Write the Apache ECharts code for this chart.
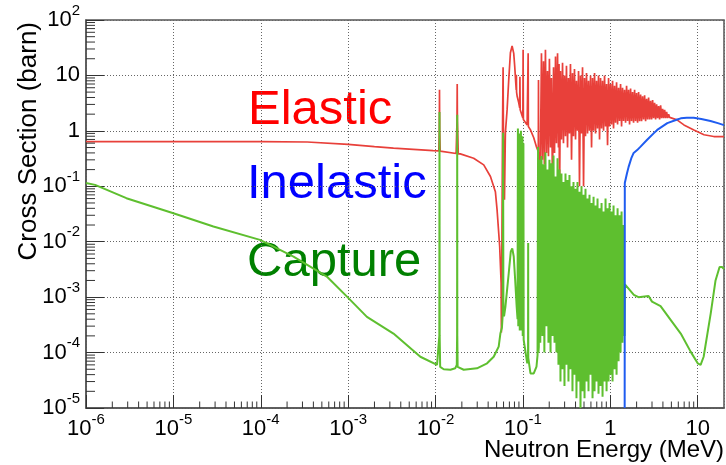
<!DOCTYPE html>
<html><head><meta charset="utf-8">
<script src="https://cdn.jsdelivr.net/npm/echarts@6/dist/echarts.min.js"></script>
<style>html,body{margin:0;padding:0;background:#fff}#c{width:726px;height:465px}</style>
</head><body><div id="c"></div>
<script>
// ---- data (E in MeV, cross section in barn) ----
const elastic = [
[1e-6,0.64],[1e-4,0.64],[3.4e-4,0.63],[1e-3,0.57],[2e-3,0.52],[3.3e-3,0.49],[5e-3,0.47],[9.4e-3,0.44],
[0.0109,0.435],[0.01105,1],[0.0111,5.5],[0.01115,1],[0.0113,0.43],[0.0172,0.39],[0.0176,1.5],[0.0177,7.0],[0.0178,1.5],
[0.0182,0.385],[0.0192,0.385],[0.0273,0.32],[0.0356,0.243],[0.0425,0.150],[0.0484,0.080],[0.0506,0.0375],
[0.0542,8.2e-3],[0.0563,1.8e-3],[0.0567,2.3e-4],[0.0575,0.01],[0.0585,1.5],[0.0593,14],[0.0598,1.0],[0.0615,0.057],
[0.063,0.92],[0.0659,2.39],[0.0688,8.3],[0.0719,25.6],[0.0752,34],[0.0772,33],[0.0785,25],[0.0806,14.4],[0.0828,7.3],
[0.0838,5.5],[0.0842,10.3],[0.0846,5],[0.0859,4.2],[0.0896,3.2],[0.0918,2.6],[0.0924,9.5],[0.093,2.4],[0.0936,2.4],
[0.0998,1.7],[0.1005,29],[0.1012,1.6],[0.102,1.59],[0.1117,1.28],[0.1142,1.2],[0.1148,25],[0.1154,1.2],[0.122,1.04],
[0.133,0.75],[0.143,0.51],[0.150,0.42],[0.1507,8.3],[0.1514,0.4],[0.152,0.40],[0.155,0.3],[0.158,0.22],
[0.163,25],[0.167,0.3],[0.172,18],[0.176,0.25],[0.181,29],[0.186,0.4],[0.191,12],[0.196,0.35],[0.201,20],[0.207,0.5],
[0.212,9],[0.218,0.1],[0.224,14],[0.230,0.4],[0.236,22],[0.242,0.6],[0.249,25],[0.255,0.5],[0.259,16],[0.262,0.033],
[0.269,12],[0.276,0.7],[0.284,17],[0.291,0.6],[0.299,10],[0.307,0.8],[0.315,15],[0.324,0.5],[0.332,9],[0.341,0.9],
[0.350,16],[0.360,0.3],[0.369,11],[0.379,0.8],[0.389,13],[0.400,0.7],[0.410,8],[0.421,1.0],[0.433,12],[0.444,0.1],
[0.456,10],[0.468,0.9],[0.481,14],[0.494,0.1],[0.507,9],[0.520,0.8],[0.534,11],[0.549,0.9],[0.563,8],[0.578,1.0],
[0.594,10],[0.610,0.5],[0.626,9],[0.643,1.0],[0.660,11],[0.678,0.9],[0.696,8],[0.714,1.1],[0.733,10],[0.753,0.7],
[0.773,9],[0.794,1.1],[0.815,8],[0.837,1.0],[0.859,10],[0.882,1.2],[0.906,7],[0.930,0.55],[0.955,9],[0.980,1.2],
[1.006,7],[1.033,1.3],[1.061,8],[1.089,1.1],[1.118,6.5],[1.148,1.4],[1.179,7.5],[1.211,1.3],[1.243,6],[1.276,1.5],
[1.310,7],[1.345,1.2],[1.381,6],[1.418,1.5],[1.456,5.5],[1.495,1.4],[1.535,6.5],[1.576,1.5],[1.618,5.5],[1.661,1.3],
[1.706,5.8],[1.751,1.5],[1.798,5],[1.846,1.4],[1.896,5.5],[1.946,1.5],[1.998,4.8],[2.052,1.4],[2.107,5],[2.163,1.5],
[2.221,4.5],[2.280,1.5],[2.341,4.2],[2.404,1.6],[2.468,4.4],[2.534,1.5],[2.602,3.8],[2.671,1.6],[2.743,4],[2.816,1.6],
[2.891,3.5],[2.969,1.6],[3.048,3.6],[3.129,1.7],[3.213,3.2],[3.299,1.6],[3.387,3.0],[3.478,1.7],[3.571,2.8],[3.666,1.6],
[3.764,2.9],[3.865,1.7],[3.968,2.5],[4.074,1.7],[4.183,2.4],[4.295,1.7],[4.410,2.2],[4.528,1.7],[4.649,2.0],[4.773,1.75],
[4.901,1.9],[5.0,1.75],[5.8,1.58],[6.95,1.28],[9.04,1.04],[11.8,0.85],[15.3,0.79],[20,0.79]
];
const capture = [
[1e-6,0.115],[1.27e-6,0.106],[2.9e-6,0.061],[1e-5,0.0327],[2.87e-5,0.0188],[9.8e-5,0.0108],[2.37e-4,5.4e-3],
[5.7e-4,2.35e-3],[9.7e-4,1.02e-3],[1.64e-3,4.4e-4],[3.3e-3,2.2e-4],[6.7e-3,8.4e-5],[0.0104,6.0e-5],[0.0109,5.8e-5],
[0.01105,2e-4],[0.0111,2.2],[0.01115,2e-4],[0.0113,5.5e-5],[0.0124,5.0e-5],[0.0148,4.9e-5],[0.0168,5.2e-5],[0.0175,6e-5],
[0.01765,2e-4],[0.0177,1.95],[0.01775,2e-4],[0.0179,5.5e-5],[0.021,4.9e-5],[0.0298,5.2e-5],[0.0389,6.4e-5],[0.0463,8.4e-5],
[0.0528,1.28e-4],[0.0552,2.2e-4],[0.0575,2.8e-4],[0.0588,5e-4],[0.0593,0.92],[0.0598,5e-4],[0.0608,4.5e-4],[0.063,6.7e-4],
[0.0688,2.7e-3],[0.0726,6.6e-3],[0.0755,7.6e-3],[0.0785,5.4e-3],[0.0816,2.0e-3],[0.0848,6.7e-4],[0.0868,4e-4],
[0.0876,1.1],[0.0885,3e-4],[0.0912,0.9],[0.092,2.5e-4],[0.0949,1.0],[0.0958,2.5e-4],[0.0987,0.8],[0.0995,2e-4],
[0.1013,0.6],[0.102,1.7e-4],[0.112,6.4e-5],[0.1145,8e-5],[0.1148,9.5e-3],[0.1152,8e-5],[0.122,4.2e-5],[0.133,4.2e-5],
[0.143,5.6e-5],[0.147,9e-5],[0.149,0.51],[0.1505,1e-4],[0.152,1.28e-4],[0.155,0.3],[0.158,1.5e-4],
[0.163,0.35],[0.167,2e-4],[0.172,0.25],[0.176,1e-4],[0.181,0.41],[0.186,3e-4],[0.191,0.2],[0.196,1.5e-4],[0.201,0.3],
[0.207,1e-4],[0.212,0.26],[0.218,2e-4],[0.224,0.36],[0.230,1.5e-4],[0.236,0.15],[0.242,1e-4],[0.249,0.32],[0.255,6e-5],
[0.262,0.2],[0.269,3e-5],[0.276,0.17],[0.284,5e-5],[0.291,0.12],[0.299,2.5e-5],[0.307,0.17],[0.315,6e-5],[0.324,0.13],
[0.332,3e-5],[0.341,0.16],[0.350,5e-5],[0.360,0.1],[0.369,2e-5],[0.379,0.12],[0.389,4e-5],[0.400,0.09],[0.410,1.5e-5],
[0.421,0.12],[0.433,3e-5],[0.444,0.08],[0.456,1e-5],[0.468,0.1],[0.481,2e-5],[0.494,0.07],[0.507,1.5e-5],[0.520,0.09],
[0.534,3e-5],[0.549,0.06],[0.563,2e-5],[0.578,0.07],[0.594,4e-5],[0.610,0.05],[0.626,1.5e-5],[0.643,0.065],[0.660,2e-5],
[0.678,0.045],[0.696,3e-5],[0.714,0.06],[0.733,1.8e-5],[0.753,0.04],[0.773,2.5e-5],[0.794,0.05],[0.815,1.6e-5],
[0.837,0.035],[0.859,3e-5],[0.882,0.06],[0.906,2e-5],[0.930,0.04],[0.955,3e-5],[0.980,0.05],[1.006,4e-5],[1.033,0.035],
[1.061,3e-5],[1.089,0.045],[1.118,5e-5],[1.148,0.03],[1.179,4e-5],[1.211,0.04],[1.243,7e-5],[1.276,0.03],[1.310,1e-4],
[1.345,0.035],[1.381,1.5e-4],[1.418,0.02],[1.456,2e-4],
[1.47,1.7e-3],[1.86,1.1e-3],[2.1,1.0e-3],[2.74,1.05e-3],[3.0,8.3e-4],[3.76,6.9e-4],[4.9,3.9e-4],[6.4,2.2e-4],
[8.3,1.04e-4],[10,6.4e-5],[10.8,6.0e-5],[11.7,8.4e-5],[14.1,5.1e-4],[16,2.0e-3],[17.8,3.5e-3],[19,3.5e-3],[20,3.2e-3]
];
const inelastic = [
[1.46,1e-5],[1.465,0.115],[1.55,0.17],[1.62,0.224],[1.75,0.33],[1.85,0.40],[2.03,0.45],[2.22,0.52],[2.64,0.69],
[3.15,0.91],[3.44,1.04],[4.49,1.38],[5.84,1.6],[6.4,1.68],[7.5,1.72],[9,1.72],[11,1.63],[14,1.51],[17,1.38],[20,1.27]
];
const xRange = [1e-6, 20];
const yRange = [1e-5, 100];
const minorMultipliers = [2,3,4,5,6,7,8,9];
const xDecades = [1e-6,1e-5,1e-4,1e-3,1e-2,1e-1,1,10];
const yDecades = [1e-5,1e-4,1e-3,1e-2,1e-1,1,10];
const labels = [
  {text:'Elastic', color:'#ff0000'},
  {text:'Inelastic', color:'#0000ff'},
  {text:'Capture', color:'#008000'}
];
const xTitle = 'Neutron Energy (MeV)';
const yTitle = 'Cross Section (barn)';

// ---- helpers ----
const xMinor = [];
xDecades.forEach(d => minorMultipliers.forEach(m => { const v = d*m; if (v < xRange[1]) xMinor.push([v, yRange[0]]); }));
const yMinor = [];
yDecades.forEach(d => minorMultipliers.forEach(m => { yMinor.push([xRange[0], d*m]); }));

function powLabel(v, plain) {
  const l = Math.log10(v), e = Math.round(l);
  if (Math.abs(l - e) > 1e-6) return '';
  if (e === 0) return '{' + plain + '|1}';
  if (e === 1) return '{' + plain + '|10}';
  return '{m|10}{s|' + e + '}';
}
const FONT = '"Liberation Sans", Arial, sans-serif';
const richBase = {
  m: {fontSize: 22, lineHeight: 22, fontFamily: FONT, color: '#000', verticalAlign: 'bottom'},
  s: {fontSize: 15, lineHeight: 15, fontFamily: FONT, color: '#000', verticalAlign: 'bottom', padding: [0,0,13,0]},
  p: {fontSize: 22, lineHeight: 22, fontFamily: FONT, color: '#000', verticalAlign: 'bottom', padding: [6,0,0,0]}
};
const gridLine = {show: true, lineStyle: {color: '#666', width: 1, type: [1, 2]}};

const chart = echarts.init(document.getElementById('c'), null, {renderer: 'canvas'});
chart.setOption({
  animation: false,
  backgroundColor: '#fff',
  grid: {left: 86, right: 2, top: 20, bottom: 57, show: true, borderColor: '#555', borderWidth: 1.5, containLabel: false, outerBoundsMode: 'none'},
  xAxis: {
    type: 'log', logBase: 10, min: xRange[0], max: xRange[1],
    name: xTitle, nameLocation: 'end', nameGap: 0, nameMoveOverlap: false,
    nameTextStyle: {fontSize: 24, fontFamily: FONT, color: '#000', align: 'right', verticalAlign: 'top', padding: [30, 0, 0, 0]},
    axisLine: {show: true, lineStyle: {color: '#555', width: 1.5}},
    axisTick: {show: true, inside: true, length: 13, lineStyle: {color: '#333', width: 1}},
    minorTick: {show: false},
    axisLabel: {interval: 0, margin: 10, showMaxLabel: false, formatter: v => powLabel(v, 'p'), rich: richBase},
    splitLine: gridLine
  },
  yAxis: {
    type: 'log', logBase: 10, min: yRange[0], max: yRange[1],
    name: yTitle, nameLocation: 'end', nameGap: -2, nameRotate: 90, nameMoveOverlap: false,
    nameTextStyle: {fontSize: 26, fontFamily: FONT, color: '#000', align: 'right', verticalAlign: 'bottom', padding: [0, 0, 44, 0]},
    axisLine: {show: true, lineStyle: {color: '#555', width: 1.5}},
    axisTick: {show: true, inside: true, length: 18, lineStyle: {color: '#333', width: 1}},
    minorTick: {show: false},
    axisLabel: {interval: 0, margin: 6, formatter: v => powLabel(v, 'm'), rich: richBase},
    splitLine: gridLine
  },
  series: [
    {name: 'Elastic', type: 'line', data: elastic, showSymbol: false, symbol: 'none', lineStyle: {color: '#e8403a', width: 1.7}, z: 2},
    {name: 'Capture', type: 'line', data: capture, showSymbol: false, symbol: 'none', lineStyle: {color: '#5ebf2f', width: 2}, z: 3},
    {name: 'Inelastic', type: 'line', data: inelastic, showSymbol: false, symbol: 'none', lineStyle: {color: '#1f5cf0', width: 2}, z: 4},
    {type: 'custom', data: xMinor, silent: true, clip: false, z: 6,
     renderItem: (p, api) => { const c = api.coord([api.value(0), api.value(1)]);
       return {type: 'line', shape: {x1: c[0], y1: c[1], x2: c[0], y2: c[1] - 6.5}, style: {stroke: '#333', lineWidth: 1}}; }},
    {type: 'custom', data: yMinor, silent: true, clip: false, z: 6,
     renderItem: (p, api) => { const c = api.coord([api.value(0), api.value(1)]);
       return {type: 'line', shape: {x1: c[0], y1: c[1], x2: c[0] + 9, y2: c[1]}, style: {stroke: '#333', lineWidth: 1}}; }}
  ],
  graphic: [
    {type: 'text', left: 248, top: 86, silent: true, style: {text: labels[0].text, fill: labels[0].color, font: '49px ' + FONT}},
    {type: 'text', left: 247, top: 160, silent: true, style: {text: labels[1].text, fill: labels[1].color, font: '49px ' + FONT}},
    {type: 'text', left: 247, top: 238, silent: true, style: {text: labels[2].text, fill: labels[2].color, font: '49px ' + FONT}}
  ]
});
</script>
</body></html>
